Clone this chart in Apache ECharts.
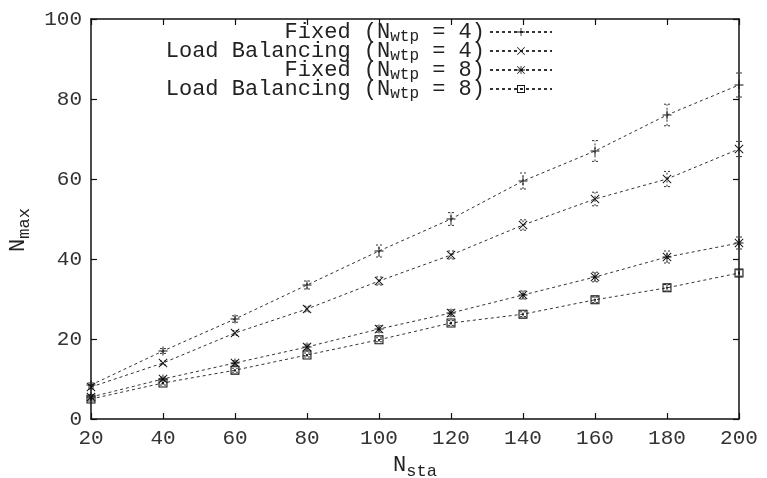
<!DOCTYPE html>
<html>
<head>
<meta charset="utf-8">
<script src="https://cdn.jsdelivr.net/npm/echarts@6/dist/echarts.min.js"></script>
<style>
  html, body { margin: 0; padding: 0; background: #fff; }
  #chart { width: 767px; height: 478px; }
</style>
</head>
<body>
<div id="chart"></div>
<script>
// x values (N_sta)
const nSta = [20, 40, 60, 80, 100, 120, 140, 160, 180, 200]
const xTicks = [20, 40, 60, 80, 100, 120, 140, 160, 180, 200]
const yTicks = [0, 20, 40, 60, 80, 100]

// N_max per series, with error bar half-heights
const fixed4 = [8.5, 17, 25, 33.5, 42, 50, 59.5, 67, 76, 83.5]
const fixed4Err = [0.5, 0.6, 0.8, 1, 1.5, 1.6, 2, 2.6, 2.7, 3]
const balance4 = [8, 14, 21.5, 27.5, 34.5, 41, 48.5, 55, 60, 67.5]
const balance4Err = [0.5, 0.5, 0.6, 0.7, 1, 1, 1.3, 1.7, 1.9, 1.9]
const fixed8 = [5.5, 10, 14, 18, 22.5, 26.5, 31, 35.5, 40.5, 44]
const fixed8Err = [0.5, 0.5, 0.6, 0.7, 0.8, 0.8, 1, 1.2, 1.5, 1.5]
const balance8 = [5, 9, 12.2, 16, 19.8, 24, 26.2, 29.8, 32.8, 36.5]
const balance8Err = [0.5, 0.5, 0.5, 0.5, 0.5, 0.6, 0.6, 0.7, 0.8, 0.8]

const seriesNames = ['Fixed (Nwtp = 4)', 'Load Balancing (Nwtp = 4)', 'Fixed (Nwtp = 8)', 'Load Balancing (Nwtp = 8)']

// gnuplot point types drawn as filled paths
const plusPath = 'path://M4.5,0H5.5V10H4.5ZM0,4.5H10V5.5H0Z'
const crossPath = 'path://M0,0.7L0.7,0L10,9.3L9.3,10ZM9.3,0L10,0.7L0.7,10L0,9.3Z'
const starPath = 'path://M4.5,0H5.5V10H4.5ZM0,4.5H10V5.5H0ZM0,0.7L0.7,0L10,9.3L9.3,10ZM9.3,0L10,0.7L0.7,10L0,9.3Z'
const boxPath = 'path://M0,0H10V10H0ZM1.2,1.2V8.8H8.8V1.2ZM4,4H6V6H4Z'

const font = 'Liberation Mono'
const lineColor = '#333'

function pairs (ys, errs) {
  return nSta.map((x, i) => errs ? [x, ys[i], errs[i]] : [x, ys[i]])
}

function errorBars (params, api) {
  const x = api.value(0)
  const y = api.value(1)
  const e = api.value(2)
  const lo = api.coord([x, y - e])
  const hi = api.coord([x, y + e])
  const w = 3
  const style = { stroke: lineColor, lineWidth: 1, lineDash: [2, 2] }
  return {
    type: 'group',
    children: [
      { type: 'line', shape: { x1: lo[0], y1: lo[1], x2: hi[0], y2: hi[1] }, style: style },
      { type: 'line', shape: { x1: lo[0] - w, y1: lo[1], x2: lo[0] + w, y2: lo[1] }, style: style },
      { type: 'line', shape: { x1: hi[0] - w, y1: hi[1], x2: hi[0] + w, y2: hi[1] }, style: style }
    ]
  }
}

function lineSeries (name, ys, symbol) {
  return {
    name: name,
    type: 'line',
    data: pairs(ys),
    symbol: symbol,
    symbolSize: 9,
    showAllSymbol: true,
    itemStyle: { color: '#111' },
    lineStyle: { color: lineColor, width: 1, type: [3, 3] },
    z: 3
  }
}

function errSeries (ys, errs) {
  return {
    type: 'custom',
    renderItem: errorBars,
    data: pairs(ys, errs),
    encode: { x: 0, y: 1 },
    z: 2,
    silent: true
  }
}

const myChart = echarts.init(document.getElementById('chart'))

const axisCommon = {
  axisLine: { show: true, onZero: false, lineStyle: { color: '#111', width: 1.5 } },
  axisTick: { show: true, inside: true, length: 6, lineStyle: { color: '#111', width: 1.2 } },
  splitLine: { show: false }
}

const titleRich = {
  n: { fontFamily: font, fontSize: 22, color: '#222', lineHeight: 22 },
  s: { fontFamily: font, fontSize: 17, color: '#222', lineHeight: 4, verticalAlign: 'top', padding: [9, 0, 0, 0] }
}

const option = {
  backgroundColor: '#fff',
  animation: false,
  grid: { left: 91, right: 28, top: 19, bottom: 59, outerBoundsMode: 'none' },
  legend: {
    data: seriesNames,
    orient: 'vertical',
    align: 'right',
    right: 209,
    top: 16,
    itemWidth: 62,
    itemHeight: 10,
    itemGap: -5,
    formatter: function (name) {
      const m = name.match(/^(.*\(N)wtp( = \d\))$/)
      return '{t|' + m[1] + '}{s|wtp}{t|' + m[2] + '}'
    },
    textStyle: {
      color: '#222',
      rich: {
        t: { fontFamily: font, fontSize: 22, lineHeight: 16, color: '#222' },
        s: { fontFamily: font, fontSize: 16, lineHeight: 4, verticalAlign: 'top', padding: [5, 0, 0, 0], color: '#222' }
      }
    }
  },
  xAxis: [
    Object.assign({
      type: 'value',
      min: xTicks[0],
      max: xTicks[xTicks.length - 1],
      interval: 20,
      position: 'bottom',
      name: '{n|N}{s|sta}',
      nameLocation: 'middle',
      nameGap: 33,
      nameTextStyle: { rich: titleRich },
      axisLabel: { fontFamily: font, fontSize: 21, color: '#333', margin: 9 }
    }, axisCommon),
    Object.assign({
      type: 'value',
      min: xTicks[0],
      max: xTicks[xTicks.length - 1],
      interval: 20,
      position: 'top',
      axisLabel: { show: false }
    }, axisCommon)
  ],
  yAxis: [
    Object.assign({
      type: 'value',
      min: yTicks[0],
      max: yTicks[yTicks.length - 1],
      interval: 20,
      position: 'left',
      name: '{n|N}{s|max}',
      nameLocation: 'middle',
      nameGap: 56,
      nameTextStyle: { rich: titleRich, padding: [0, 22, 0, 0] },
      axisLabel: { fontFamily: font, fontSize: 21, color: '#333', margin: 9 }
    }, axisCommon),
    Object.assign({
      type: 'value',
      min: yTicks[0],
      max: yTicks[yTicks.length - 1],
      interval: 20,
      position: 'right',
      axisLabel: { show: false }
    }, axisCommon)
  ],
  series: [
    errSeries(fixed4, fixed4Err),
    errSeries(balance4, balance4Err),
    errSeries(fixed8, fixed8Err),
    errSeries(balance8, balance8Err),
    lineSeries(seriesNames[0], fixed4, plusPath),
    lineSeries(seriesNames[1], balance4, crossPath),
    lineSeries(seriesNames[2], fixed8, starPath),
    lineSeries(seriesNames[3], balance8, boxPath)
  ]
}

myChart.setOption(option)
</script>
</body>
</html>
